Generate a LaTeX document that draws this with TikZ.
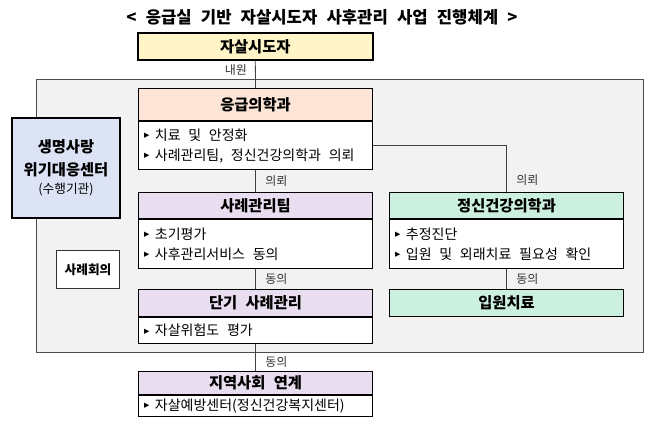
\documentclass[tikz,border=0pt]{standalone}
\usepackage{fontspec}
\setmainfont{Noto Sans CJK KR}[WordSpace=2.4]
\newfontfamily\symfont{DejaVu Sans}
\usetikzlibrary{calc,positioning}
\definecolor{ylw}{HTML}{FFF5C8}
\definecolor{peach}{HTML}{FCE4D6}
\definecolor{lav}{HTML}{E8DEEF}
\definecolor{mint}{HTML}{CCF0E0}
\definecolor{skyb}{HTML}{DCE3F5}
\definecolor{panel}{HTML}{F2F2F2}
\def\tri{\raisebox{1.2pt}{\symfont\fontsize{8}{8}\selectfont ▸}\hspace{4pt}}
\tikzset{
  head/.style={draw=black, line width=0.8pt, minimum width=175.5pt, inner sep=0pt,
    anchor=north west, font=\fontsize{11.5}{13}\selectfont\bfseries},
  body/.style={draw=black, line width=0.8pt, fill=white, text width=167pt, inner xsep=4.25pt,
    inner ysep=0pt, align=flush left, anchor=north west, font=\fontsize{10.5}{15}\selectfont,
    execute at begin node={\spaceskip=5.8pt plus 1pt\relax}},
  link/.style={draw=black!75, line width=0.6pt},
  lab/.style={font=\fontsize{9}{10}\selectfont, text=black!80, inner sep=0pt}
}
\begin{document}
\begin{tikzpicture}[x=0.75pt, y=-0.75pt]
		%%%%% START %%%%%
		\useasboundingbox (0, 0) rectangle (650, 421);
		
		\node[font=\fontsize{12.5}{14}\selectfont\bfseries] (title) at (322, 17) {< 응급실 기반 자살시도자 사후관리 사업 진행체계 >};
		
		\draw[fill=panel, draw=black!70, line width=0.6pt] (36, 79) rectangle (643, 352);
		
		\node[head, fill=ylw, line width=1.2pt, minimum width=176.25pt, minimum height=20.25pt] (suicide) at (137, 32) {자살시도자};
		
		\node[head, fill=peach, minimum height=24pt] (emerH) at (138, 88) {응급의학과};
		\node[body, minimum height=36pt] (emerB) at (emerH.south west) {\tri 치료 및 안정화\\\tri 사례관리팀, 정신건강의학과 의뢰};
		
		\node[head, fill=lav, minimum height=19.5pt] (caseH) at (138, 192) {사례관리팀};
		\node[body, minimum height=36.75pt] (caseB) at (caseH.south west) {\tri 초기평가\\\tri 사후관리서비스 동의};
		
		\node[head, fill=mint, minimum height=19.5pt] (psyH) at (389, 192) {정신건강의학과};
		\node[body, minimum height=36.75pt] (psyB) at (psyH.south west) {\tri 추정진단\\\tri 입원 및 외래치료 필요성 확인};
		
		\node[head, fill=lav, minimum height=20.25pt] (shortH) at (138, 289) {단기 사례관리};
		\node[body, minimum height=19.5pt] (shortB) at (shortH.south west) {\tri 자살위험도 평가};
		
		\node[head, fill=mint, minimum height=20.25pt] (admit) at (389, 289) {입원치료};
		
		\node[head, fill=lav, minimum height=17.25pt] (commH) at (138, 371) {지역사회 연계};
		\node[body, minimum height=15.75pt] (commB) at (commH.south west) {\tri 자살예방센터(정신건강복지센터)};
		
		\node[draw=black, line width=1.2pt, fill=skyb, minimum width=81pt, minimum height=75pt, inner sep=0pt, align=center, font=\fontsize{11.5}{17}\selectfont\bfseries] (center) at (66, 168) {생명사랑\\위기대응센터\\[-3pt]{\mdseries\fontsize{9.5}{11}\selectfont (수행기관)}};
		
		\node[draw=black!80, line width=0.6pt, fill=white, minimum width=47pt, minimum height=29pt, inner sep=0pt, font=\fontsize{9.5}{11}\selectfont\bfseries] (meeting) at (88, 269.5) {사례회의};
		
		\draw[link] (suicide.south) -- node[lab, pos=0.33, anchor=east, xshift=-6pt] {내원} (emerH.north);
		\draw[link] (emerB.south) -- node[lab, anchor=west, xshift=7pt] {의뢰} (caseH.north);
		\draw[link] (emerB.east) -| node[lab, pos=0.87, anchor=west, xshift=7pt] {의뢰} (psyH.north);
		\draw[link] (caseB.south) -- node[lab, anchor=west, xshift=7pt] {동의} (shortH.north);
		\draw[link] (psyB.south) -- node[lab, anchor=west, xshift=7pt] {동의} (admit.north);
		\draw[link] (shortB.south) -- node[lab, pos=0.65, anchor=west, xshift=7pt] {동의} (commH.north);
		
		%%%%% END %%%%%
	\end{tikzpicture}
\end{document}
